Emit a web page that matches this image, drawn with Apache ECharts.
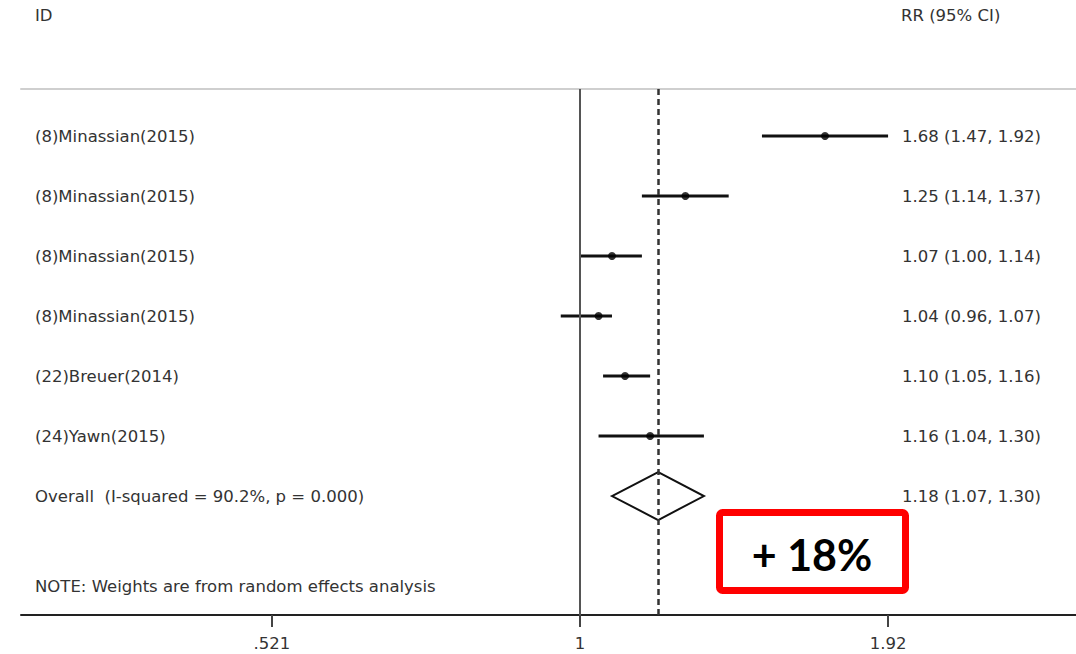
<!DOCTYPE html>
<html><head><meta charset="utf-8">
<script src="https://cdn.jsdelivr.net/npm/echarts@6/dist/echarts.min.js"></script>
<style>html,body{margin:0;padding:0;background:#fff}#c{width:1076px;height:654px}</style>
</head><body><div id="c"></div>
<script>
const studies = ['(8)Minassian(2015)', '(8)Minassian(2015)', '(8)Minassian(2015)', '(8)Minassian(2015)', '(22)Breuer(2014)', '(24)Yawn(2015)'];
const rr = [1.68, 1.25, 1.07, 1.04, 1.10, 1.16];
const ciLow = [1.47, 1.14, 1.00, 0.96, 1.05, 1.04];
const ciHigh = [1.92, 1.37, 1.14, 1.07, 1.16, 1.30];
const overallLabel = 'Overall  (I-squared = 90.2%, p = 0.000)';
const overallRR = 1.18, overallLow = 1.07, overallHigh = 1.30;
const noteText = 'NOTE: Weights are from random effects analysis';
const headerLeft = 'ID', headerRight = 'RR (95% CI)';
const tickValues = [0.521, 1, 1.92];
const tickLabels = ['.521', '1', '1.92'];
const annotation = '+ 18%';

const FONT = 'DejaVu Sans';
const FS = 16.5;
const TXT = '#333';
const rows = studies.map((s, i) => i + 1);
const overallRow = studies.length + 1;
const noteRow = overallRow + 1.5;
const fmt = (e, l, h) => e.toFixed(2) + ' (' + l.toFixed(2) + ', ' + h.toFixed(2) + ')';

const chart = echarts.init(document.getElementById('c'), null, {renderer: 'svg'});

const xCommon = {type: 'log', logBase: 1.92, min: 0.3061, max: 2.8585, splitLine: {show: false}};
chart.setOption({
  animation: false,
  grid: {left: 21, right: 0, top: 89, bottom: 39},
  xAxis: [
    Object.assign({}, xCommon, {
      position: 'bottom',
      axisLine: {lineStyle: {color: '#222', width: 2}},
      axisTick: {length: 12, lineStyle: {color: '#444', width: 2}},
      axisLabel: {
        showMinLabel: false, showMaxLabel: false, margin: 20,
        fontSize: FS, fontFamily: FONT, color: TXT,
        formatter: v => {
          for (let i = 0; i < tickValues.length; i++) {
            if (Math.abs(v / tickValues[i] - 1) < 0.01) return tickLabels[i];
          }
          return '';
        }
      }
    }),
    Object.assign({}, xCommon, {
      position: 'top',
      axisLine: {lineStyle: {color: '#cfcfcf', width: 2}},
      axisTick: {show: false}, axisLabel: {show: false}
    })
  ],
  yAxis: {type: 'value', min: 0.2167, max: 8.983, inverse: true, show: false},
  series: [
    {
      type: 'custom',
      data: rows.map((r, i) => [ciLow[i], ciHigh[i], r]),
      encode: {x: [0, 1], y: 2},
      renderItem: (params, api) => {
        const a = api.coord([api.value(0), api.value(2)]);
        const b = api.coord([api.value(1), api.value(2)]);
        return {type: 'line', shape: {x1: a[0], y1: a[1], x2: b[0], y2: b[1]},
          style: {stroke: '#111', lineWidth: 3}};
      },
      z: 3
    },
    {
      type: 'custom',
      data: [[overallLow, overallRR, overallHigh, overallRow]],
      encode: {x: [0, 1, 2], y: 3},
      renderItem: (params, api) => {
        const r = api.value(3);
        const l = api.coord([api.value(0), r]);
        const m = api.coord([api.value(1), r]);
        const h = api.coord([api.value(2), r]);
        return {type: 'polygon',
          shape: {points: [[l[0], l[1]], [m[0], m[1] - 24], [h[0], h[1]], [m[0], m[1] + 24]]},
          style: {fill: 'none', stroke: '#111', lineWidth: 2}};
      },
      z: 4
    },
    {
      type: 'scatter',
      data: rows.map((r, i) => [rr[i], r]),
      symbol: 'circle', symbolSize: 8,
      itemStyle: {color: '#000'},
      z: 5,
      markLine: {
        silent: true, symbol: 'none', label: {show: false},
        data: [
          {xAxis: 1, lineStyle: {color: '#555', width: 2, type: 'solid'}},
          {xAxis: overallRR, lineStyle: {color: '#333', width: 2.5, type: [6, 4]}}
        ]
      }
    }
  ]
});

const yPix = r => chart.convertToPixel({yAxisIndex: 0}, r);
const txt = (text, x, y, align) => ({
  type: 'text', x: x, y: y, z: 10,
  style: {text: text, fontSize: FS, fontFamily: FONT, fill: TXT, align: align || 'left', verticalAlign: 'middle'}
});
const g = [];
g.push(txt(headerLeft, 35, 15));
g.push(txt(headerRight, 901, 15));
rows.forEach((r, i) => {
  g.push(txt(studies[i], 35, yPix(r)));
  g.push(txt(fmt(rr[i], ciLow[i], ciHigh[i]), 902, yPix(r)));
});
g.push(txt(overallLabel, 35, yPix(overallRow)));
g.push(txt(fmt(overallRR, overallLow, overallHigh), 902, yPix(overallRow)));
g.push(txt(noteText, 35, yPix(noteRow)));
g.push({type: 'rect', z: 20, shape: {x: 719.5, y: 512.5, width: 186, height: 78, r: 3},
  style: {fill: '#fff', stroke: '#ff0000', lineWidth: 7}});
g.push({type: 'text', z: 21, x: 812, y: 554,
  style: {text: annotation, fontSize: 43, fontWeight: 'bold', fontFamily: 'Lato', fill: '#000', align: 'center', verticalAlign: 'middle'}});
chart.setOption({graphic: g});
</script>
</body></html>
